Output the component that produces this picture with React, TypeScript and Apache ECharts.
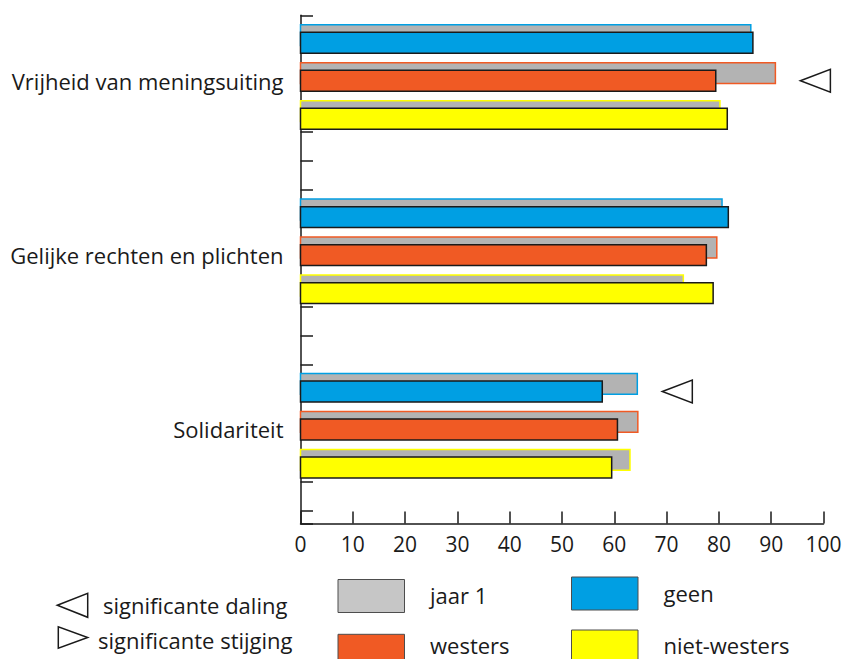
import React, { useEffect, useRef } from 'react';
import * as echarts from 'echarts';

// ---- data ----
const categories = ['Vrijheid van meningsuiting', 'Gelijke rechten en plichten', 'Solidariteit'];
const groups = ['geen', 'westers', 'niet-westers'];
const baselineName = 'jaar 1';

const jaar1Geen = [86.1, 80.6, 64.4];
const jaar1Westers = [90.8, 79.6, 64.5];
const jaar1NietWesters = [80.2, 73.2, 63.0];

const nuGeen = [86.5, 81.8, 57.7];
const nuWesters = [79.4, 77.6, 60.6];
const nuNietWesters = [81.6, 78.9, 59.5];

// significance vs jaar 1: 'daling' | 'stijging' | ''
const sigGeen = ['', '', 'daling'];
const sigWesters = ['daling', '', ''];
const sigNietWesters = ['', '', ''];

const xMin = 0;
const xMax = 100;
const xStep = 10;

const legendSigLabels = ['significante daling', 'significante stijging'];

// ---- styles / layout ----
const FONT = '"Open Sans", "Noto Sans", sans-serif';
const TEXT = '#1a1a1a';
const GRAY = '#b3b3b3';
const GRAY_LEGEND = '#c6c6c6';
const groupColors = ['#009fe3', '#f05a24', '#ffff00'];

const Y_MAX = 17.43;
const GROUP_START = 2.245;
const GROUP_STEP = 5.98;
const SLOT = 1.303;
const BAR_H = 0.715;
const GRAY_SHIFT = -0.262;

const jaar1 = [jaar1Geen, jaar1Westers, jaar1NietWesters];
const nu = [nuGeen, nuWesters, nuNietWesters];
const sig = [sigGeen, sigWesters, sigNietWesters];

const centerOf = (c: number, g: number) => GROUP_START + c * GROUP_STEP + (g - 1) * SLOT;
const labelPositions = categories.map((_, c) => GROUP_START + c * GROUP_STEP);

function barRect(api: any, value: number, yc: number) {
  const p0 = api.coord([0, yc - BAR_H / 2]);
  const p1 = api.coord([value, yc + BAR_H / 2]);
  return {
    x: p0[0],
    y: Math.min(p0[1], p1[1]),
    width: p1[0] - p0[0],
    height: Math.abs(p1[1] - p0[1]),
  };
}

function legendItem(name: string, color: string, bx: number, by: number, ty: number) {
  return [
    {
      type: 'rect',
      shape: { x: bx, y: by, width: 66.5, height: 33 },
      style: { fill: color, stroke: '#4d4d4d', lineWidth: 1 },
    },
    {
      type: 'text',
      x: bx + 92,
      y: ty,
      style: { text: name, fill: TEXT, font: `22px ${FONT}`, verticalAlign: 'middle' },
    },
  ];
}

export default function App() {
  const ref = useRef<HTMLDivElement>(null);

  useEffect(() => {
    const chart = echarts.init(ref.current!, null, { renderer: 'svg' });

    const grayData: number[][] = [];
    categories.forEach((_, c) => groups.forEach((__, g) => grayData.push([jaar1[g][c], c, g])));

    const sigData: number[][] = [];
    categories.forEach((_, c) =>
      groups.forEach((__, g) => {
        const s = sig[g][c];
        if (s) sigData.push([Math.max(jaar1[g][c], nu[g][c]), c, g, s === 'daling' ? 0 : 1]);
      })
    );

    const series: any[] = [
      {
        type: 'custom',
        name: baselineName,
        itemStyle: { color: GRAY },
        encode: { x: 0, y: 1 },
        data: grayData,
        renderItem: (params: any, api: any) => {
          const v = api.value(0);
          const c = api.value(1);
          const g = api.value(2);
          return {
            type: 'rect',
            shape: barRect(api, v, centerOf(c, g) + GRAY_SHIFT),
            style: { fill: GRAY, stroke: groupColors[g], lineWidth: 1.5 },
          };
        },
      },
      ...groups.map((name, g) => ({
        type: 'custom',
        name,
        itemStyle: { color: groupColors[g] },
        encode: { x: 0, y: 1 },
        data: nu[g].map((v, c) => [v, c]),
        renderItem: (params: any, api: any) => {
          const v = api.value(0);
          const c = api.value(1);
          return {
            type: 'rect',
            shape: barRect(api, v, centerOf(c, g)),
            style: { fill: groupColors[g], stroke: TEXT, lineWidth: 1.5 },
          };
        },
      })),
      {
        type: 'custom',
        name: 'significantie',
        encode: { x: 0, y: 1 },
        data: sigData,
        renderItem: (params: any, api: any) => {
          const end = api.value(0);
          const c = api.value(1);
          const g = api.value(2);
          const dir = api.value(3);
          const p = api.coord([end, centerOf(c, g)]);
          const x0 = p[0] + 25;
          const w = 30;
          const h = 23;
          const points =
            dir === 0
              ? [[x0, p[1]], [x0 + w, p[1] - h / 2], [x0 + w, p[1] + h / 2]]
              : [[x0, p[1] - h / 2], [x0, p[1] + h / 2], [x0 + w, p[1]]];
          return {
            type: 'polygon',
            shape: { points },
            style: { fill: '#fff', stroke: TEXT, lineWidth: 1.5 },
          };
        },
      },
    ];

    const option: any = {
      animation: false,
      backgroundColor: '#fff',
      textStyle: { fontFamily: FONT },
      grid: { left: 300.5, top: 15.3, width: 523, height: 508.2, containLabel: false, outerBoundsMode: 'none' },
      xAxis: {
        type: 'value',
        min: xMin,
        max: xMax,
        interval: xStep,
        splitLine: { show: false },
        axisLine: { onZero: false, lineStyle: { color: TEXT, width: 1.5 } },
        axisTick: { inside: true, length: 12, lineStyle: { color: TEXT, width: 1.5 } },
        axisLabel: { fontSize: 21, color: TEXT, margin: 10, fontFamily: FONT },
      },
      yAxis: {
        type: 'value',
        inverse: true,
        min: 0,
        max: Y_MAX,
        interval: 1,
        splitLine: { show: false },
        axisLine: { onZero: false, lineStyle: { color: TEXT, width: 1.5 } },
        axisTick: { inside: true, length: 12.5, lineStyle: { color: TEXT, width: 1.5 } },
        axisLabel: {
          customValues: labelPositions,
          formatter: (v: number) => {
            const i = labelPositions.findIndex((p) => Math.abs(p - v) < 1e-6);
            return i >= 0 ? categories[i] : '';
          },
          fontSize: 22,
          color: TEXT,
          margin: 17,
          fontFamily: FONT,
        },
      },
      graphic: [
        { type: 'polygon', shape: { points: [[57.3, 605.3], [87.7, 593.3], [87.7, 617.3]] }, style: { fill: '#fff', stroke: TEXT, lineWidth: 1.5 } },
        { type: 'text', x: 103, y: 605, style: { text: legendSigLabels[0], fill: TEXT, font: `22px ${FONT}`, verticalAlign: 'middle' } },
        { type: 'polygon', shape: { points: [[58.3, 626.7], [58.3, 648.3], [87.7, 637.5]] }, style: { fill: '#fff', stroke: TEXT, lineWidth: 1.5 } },
        { type: 'text', x: 98, y: 639.5, style: { text: legendSigLabels[1], fill: TEXT, font: `22px ${FONT}`, verticalAlign: 'middle' } },
        ...legendItem(baselineName, GRAY_LEGEND, 338, 579.5, 594.5),
        ...legendItem(groups[1], groupColors[1], 338, 634.3, 645),
        ...legendItem(groups[0], groupColors[0], 571.5, 577, 592.5),
        ...legendItem(groups[2], groupColors[2], 571.5, 630, 645),
      ],
      series,
    };

    chart.setOption(option);
    return () => chart.dispose();
  }, []);

  return (
    <div
      ref={ref}
      style={{ position: 'fixed', left: 0, top: 0, width: 846, height: 659, background: '#fff' }}
    />
  );
}
